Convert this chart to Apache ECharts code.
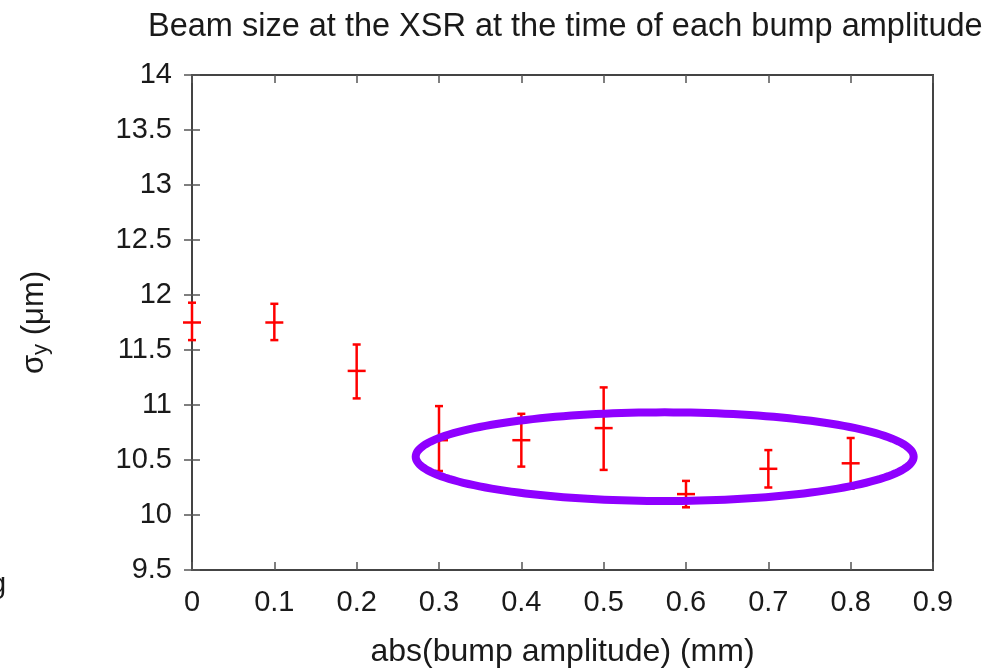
<!DOCTYPE html>
<html>
<head>
<meta charset="utf-8">
<script src="https://cdn.jsdelivr.net/npm/echarts@6/dist/echarts.min.js"></script>
<style>
  html, body { margin: 0; padding: 0; background: #fff; }
  #vis { width: 1006px; height: 668px; }
</style>
</head>
<body>
<div id="vis"></div>
<script>
// bump amplitudes (mm) and measured vertical beam size (um)
const amplitude = [0, 0.1, 0.2, 0.3, 0.4, 0.5, 0.6, 0.7, 0.8]
const sigmaY = [11.75, 11.75, 11.31, 10.68, 10.68, 10.79, 10.19, 10.42, 10.47]
const sigmaLow = [11.59, 11.59, 11.06, 10.40, 10.44, 10.41, 10.07, 10.25, 10.24]
const sigmaHigh = [11.93, 11.92, 11.55, 10.99, 10.92, 11.16, 10.31, 10.59, 10.70]

// highlight ellipse in data units: centre x, centre y, half width, half height
const ellipse = [0.5741, 10.53, 0.3024, 0.403]

const font = 'Liberation Sans, Arial, Helvetica, sans-serif'
const textColor = '#1a1a1a'

const errorData = amplitude.map((x, i) => [x, sigmaY[i], sigmaLow[i], sigmaHigh[i]])

function renderError (params, api) {
  const c = api.coord([api.value(0), api.value(1)])
  const lo = api.coord([api.value(0), api.value(2)])
  const hi = api.coord([api.value(0), api.value(3)])
  const style = { stroke: '#ff0000', lineWidth: 2.5 }
  const line = (x1, y1, x2, y2) => ({ type: 'line', shape: { x1, y1, x2, y2 }, style })
  return {
    type: 'group',
    children: [
      line(c[0], hi[1], c[0], lo[1]),
      line(c[0] - 4, hi[1], c[0] + 4, hi[1]),
      line(c[0] - 4, lo[1], c[0] + 4, lo[1]),
      line(c[0] - 9, c[1], c[0] + 9, c[1])
    ]
  }
}

function renderEllipse (params, api) {
  const cx = api.value(0)
  const cy = api.value(1)
  const rx = api.value(2)
  const ry = api.value(3)
  const points = []
  for (let k = 0; k < 180; k++) {
    const t = (k / 180) * Math.PI * 2
    points.push(api.coord([cx + rx * Math.cos(t), cy + ry * Math.sin(t)]))
  }
  return {
    type: 'polygon',
    shape: { points },
    style: { fill: 'none', stroke: '#8f00ff', lineWidth: 8 }
  }
}

const chart = echarts.init(document.getElementById('vis'), null, { renderer: 'canvas' })

const axisCommon = {
  type: 'value',
  splitLine: { show: false },
  axisLine: { show: false },
  axisTick: { show: true, inside: true, length: 8, lineStyle: { color: '#555', width: 1.5 } }
}

chart.setOption({
  animation: false,
  textStyle: { fontFamily: font },
  title: {
    text: 'Beam size at the XSR at the time of each bump amplitude',
    left: 143,
    top: 6,
    textStyle: { fontSize: 32.5, fontWeight: 'normal', color: textColor, fontFamily: font }
  },
  grid: {
    left: 192,
    right: 73,
    top: 75,
    bottom: 98,
    show: true,
    borderColor: '#444',
    borderWidth: 2,
    containLabel: false,
    outerBoundsMode: 'none'
  },
  xAxis: [
    {
      ...axisCommon,
      position: 'bottom',
      min: 0,
      max: 0.9,
      interval: 0.1,
      name: 'abs(bump amplitude) (mm)',
      nameLocation: 'middle',
      nameGap: 66,
      nameTextStyle: { fontSize: 32, color: textColor, fontFamily: font },
      axisLabel: { margin: 18, fontSize: 29, color: textColor, fontFamily: font }
    },
    {
      ...axisCommon,
      position: 'top',
      min: 0,
      max: 0.9,
      interval: 0.1,
      axisLabel: { show: false }
    }
  ],
  yAxis: [
    {
      ...axisCommon,
      position: 'left',
      min: 9.5,
      max: 14,
      interval: 0.5,
      name: '{s|σ}{sub|y}{s| (μm)}',
      nameLocation: 'middle',
      nameRotate: 90,
      nameGap: 140,
      nameTextStyle: {
        rich: {
          s: { fontSize: 31, color: textColor, fontFamily: font },
          sub: { fontSize: 22, color: textColor, fontFamily: font, verticalAlign: 'bottom', padding: [14, 0, 0, 0] }
        }
      },
      axisLabel: { margin: 20, fontSize: 29, color: textColor, fontFamily: font }
    },
    {
      ...axisCommon,
      position: 'right',
      min: 9.5,
      max: 14,
      interval: 0.5,
      axisLabel: { show: false }
    }
  ],
  graphic: [
    {
      type: 'text',
      left: -10,
      top: 570,
      style: { text: 'g', fontSize: 29, fill: textColor, fontFamily: font }
    }
  ],
  series: [
    {
      type: 'custom',
      name: 'sigma_y',
      xAxisIndex: 0,
      yAxisIndex: 0,
      data: errorData,
      renderItem: renderError,
      z: 3
    },
    {
      type: 'custom',
      name: 'highlight',
      xAxisIndex: 0,
      yAxisIndex: 0,
      data: [ellipse],
      renderItem: renderEllipse,
      z: 4
    }
  ]
})

window.addEventListener('resize', () => chart.resize())
</script>
</body>
</html>
